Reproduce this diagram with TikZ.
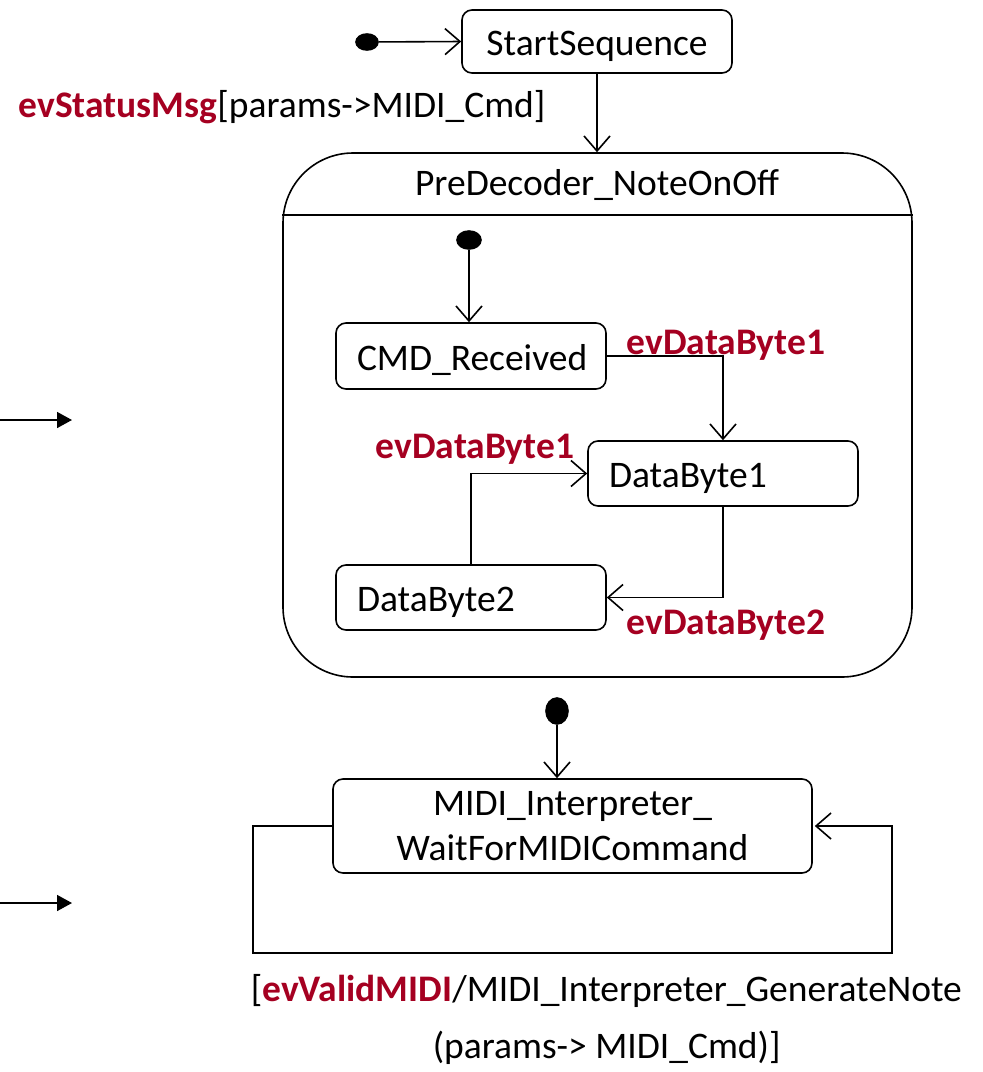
\documentclass[tikz,border=0pt]{standalone}
\usepackage{fontspec}
\setmainfont{Carlito}
\usetikzlibrary{arrows.meta,positioning,calc,shapes.geometric}
\definecolor{evred}{RGB}{165,0,33}
\begin{document}
\begin{tikzpicture}[x=1pt,y=-1pt,
  every node/.style={font=\fontsize{37.5}{45}\selectfont},
  line width=1.6pt,
  statebox/.style={draw,rounded corners=10pt,minimum height=65pt,inner sep=0pt},
  onelinestate/.style={statebox,text height=30pt,text depth=2pt},
  leftstate/.style={onelinestate,text width=228pt,align=left,inner xsep=21pt},
  initdot/.style={draw,fill=black,ellipse,inner sep=0pt},
  trans/.style={-{Straight Barb[length=15pt,width=26pt,line width=1.6pt]}},
  inarrow/.style={-{Triangle[length=15pt,width=16pt]}},
  evlabel/.style={text=evred,font=\fontsize{37.5}{45}\selectfont\bfseries,inner sep=0pt,anchor=base west},
  plainlabel/.style={inner sep=0pt,anchor=base west}
]
\useasboundingbox (0,0) rectangle (983,1072);

% top level start
\node[initdot,minimum width=22pt,minimum height=16pt] (dotA) at (367,42) {};
\node[onelinestate,minimum width=270pt,minimum height=63pt] (start) at (597,41.5) {StartSequence};
\draw[trans] (dotA) -- (start.west);

\node[plainlabel] (statusLbl) at (18,117) {\textcolor{evred}{\bfseries evStatusMsg}[params->MIDI\_Cmd]};

% composite state
\node[draw,rounded corners=70pt,minimum width=629pt,minimum height=524pt,inner sep=0pt] (pre) at (597.5,415) {};
\draw (pre.west |- 0,215) -- (pre.east |- 0,215);
\node (preTitle) at (597,185) {PreDecoder\_NoteOnOff};
\draw[trans] (start.south) -- (start.south |- pre.north);

% inner states
\node[initdot,minimum width=24pt,minimum height=18pt] (dotB) at (469,240) {};
\node[leftstate,minimum height=66pt] (cmd) at (471,356) {CMD\_Received};
\node[leftstate] (db1) at (723,473.5) {DataByte1};
\node[leftstate] (db2) at (471,597.5) {DataByte2};

\draw[trans] (dotB.south) -- (dotB.south |- cmd.north);
\draw[trans] (cmd.east) -| (db1.north);
\draw[trans] (db2.north) |- (db1.west);
\draw[trans] (db1.south) |- (db2.east);

\node[evlabel] (lblA) at (626,354) {evDataByte1};
\node[evlabel] (lblB) at (375,458) {evDataByte1};
\node[evlabel] (lblC) at (626,634) {evDataByte2};

% interpreter
\node[initdot,minimum width=22pt,minimum height=26pt] (dotC) at (557,711) {};
\node[statebox,minimum width=479pt,minimum height=94pt,align=center] (midi) at (572.5,826)
  {MIDI\_Interpreter\_\\WaitForMIDICommand};
\draw[trans] (dotC.south) -- (dotC.south |- midi.north);

\coordinate (loopL) at (253,953);
\coordinate (loopR) at (892,953);
\draw[trans] (midi.west) -| (loopL) -- (loopR) |- ($(midi.east)+(2,0)$);

\node[plainlabel] (genLbl) at (250,1001)
  {[\textcolor{evred}{\bfseries evValidMIDI}/MIDI\_Interpreter\_GenerateNote};
\node[plainlabel] (genLbl2) at (432,1058) {(params-> MIDI\_Cmd)]};

% incoming arrows at the left edge
\coordinate (inA) at (0,420);
\coordinate (inAend) at (72,420);
\coordinate (inB) at (0,903);
\coordinate (inBend) at (72,903);
\draw[inarrow] (inA) -- (inAend);
\draw[inarrow] (inB) -- (inBend);
\end{tikzpicture}
\end{document}
